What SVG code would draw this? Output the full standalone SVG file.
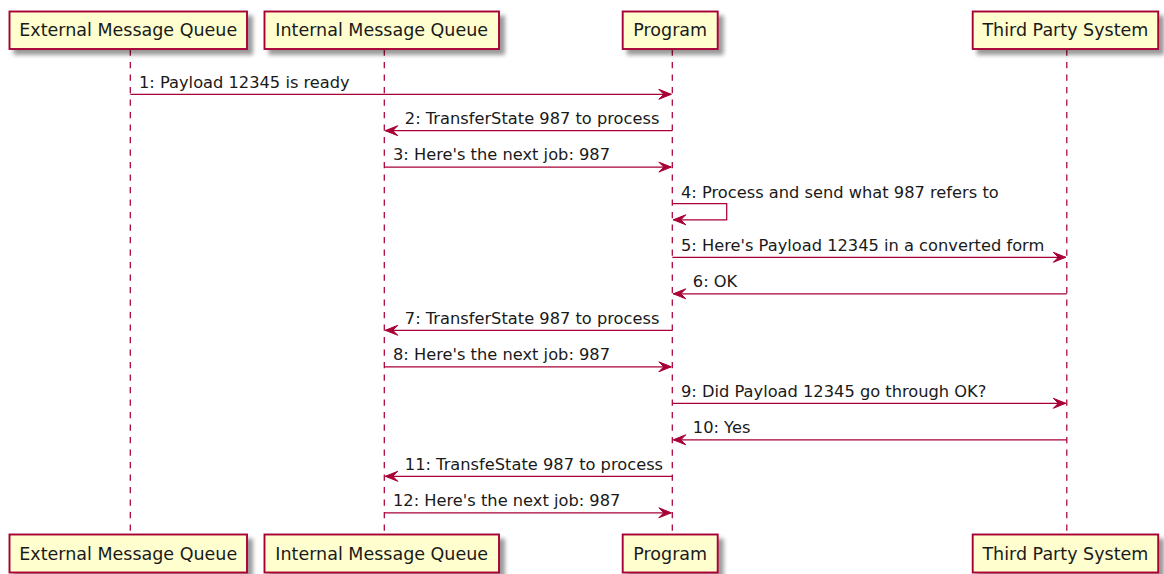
<svg xmlns="http://www.w3.org/2000/svg" width="1164" height="574" viewBox="0 0 1164 574">
<style>
.box{fill:#FEFECE;stroke:#A80036;stroke-width:1.9}
.bt{font-family:"DejaVu Sans",sans-serif;font-size:17.5px;fill:#1a1a1a;text-anchor:middle}
.life{stroke:#A80036;stroke-width:1.25;stroke-dasharray:6.25,6.25;fill:none}
.msg{stroke:#A80036;stroke-width:1.25;fill:none;marker-end:url(#ah)}
.mt{font-family:"DejaVu Sans",sans-serif;font-size:16.25px;fill:#1a1a1a}
</style>
<defs>
<filter id="sh" x="-10%" y="-30%" width="130%" height="180%">
<feGaussianBlur in="SourceAlpha" stdDeviation="2"/>
<feOffset dx="5" dy="5" result="o"/>
<feComponentTransfer><feFuncA type="linear" slope="0.4"/></feComponentTransfer>
<feMerge><feMergeNode/><feMergeNode in="SourceGraphic"/></feMerge>
</filter>
<marker id="ah" markerUnits="userSpaceOnUse" viewBox="-1 -1 14.5 12" markerWidth="14.5" markerHeight="12" refX="12.5" refY="5" orient="auto">
<path d="M0,0 L12.5,5 L0,10 L5,5 Z" fill="#A80036" stroke="#A80036" stroke-width="1" stroke-linejoin="miter"/>
</marker>
</defs>
<rect width="1164" height="574" fill="#fff"/>
<g id="lifelines">
<line class="life" x1="130.3" y1="49.5" x2="130.3" y2="534.5"/>
<line class="life" x1="384.3" y1="49.5" x2="384.3" y2="534.5"/>
<line class="life" x1="672.3" y1="49.5" x2="672.3" y2="534.5"/>
<line class="life" x1="1066.8" y1="49.5" x2="1066.8" y2="534.5"/>
</g>
<g id="ext">
<rect class="box" filter="url(#sh)" x="9.5" y="11.5" width="237.5" height="37.5"/>
<text class="bt" x="128.2" y="36">External Message Queue</text>
<rect class="box" filter="url(#sh)" x="9.5" y="534.5" width="237.5" height="38"/>
<text class="bt" x="128.2" y="559.5">External Message Queue</text>
</g>
<g id="int">
<rect class="box" filter="url(#sh)" x="264.5" y="11.5" width="234.5" height="37.5"/>
<text class="bt" x="381.7" y="36">Internal Message Queue</text>
<rect class="box" filter="url(#sh)" x="264.5" y="534.5" width="234.5" height="38"/>
<text class="bt" x="381.7" y="559.5">Internal Message Queue</text>
</g>
<g id="prog">
<rect class="box" filter="url(#sh)" x="622.7" y="11.5" width="95" height="37.5"/>
<text class="bt" x="670.2" y="36">Program</text>
<rect class="box" filter="url(#sh)" x="622.7" y="534.5" width="95" height="38"/>
<text class="bt" x="670.2" y="559.5">Program</text>
</g>
<g id="tps">
<rect class="box" filter="url(#sh)" x="972.7" y="11.5" width="185.5" height="37.5"/>
<text class="bt" x="1065.4" y="36">Third Party System</text>
<rect class="box" filter="url(#sh)" x="972.7" y="534.5" width="185.5" height="38"/>
<text class="bt" x="1065.4" y="559.5">Third Party System</text>
</g>
<g id="connectors">
<line class="msg" x1="130.3" y1="94.3" x2="671.3" y2="94.3"/>
<text class="mt" x="139" y="87.5">1: Payload 12345 is ready</text>
<line class="msg" x1="672.3" y1="130.7" x2="385.3" y2="130.7"/>
<text class="mt" x="404.8" y="124">2: TransferState 987 to process</text>
<line class="msg" x1="384.3" y1="167.1" x2="671.3" y2="167.1"/>
<text class="mt" x="393" y="160.4">3: Here's the next job: 987</text>
<path class="msg" d="M672.3,203.5 H726.7 V219.8 H673.3"/>
<text class="mt" x="681" y="197.5">4: Process and send what 987 refers to</text>
<line class="msg" x1="672.3" y1="257.3" x2="1065.8" y2="257.3"/>
<text class="mt" x="681" y="250.6">5: Here's Payload 12345 in a converted form</text>
<line class="msg" x1="1066.8" y1="293.8" x2="673.3" y2="293.8"/>
<text class="mt" x="692.8" y="287.1">6: OK</text>
<line class="msg" x1="672.3" y1="330.3" x2="385.3" y2="330.3"/>
<text class="mt" x="404.8" y="323.6">7: TransferState 987 to process</text>
<line class="msg" x1="384.3" y1="366.8" x2="671.3" y2="366.8"/>
<text class="mt" x="393" y="360.1">8: Here's the next job: 987</text>
<line class="msg" x1="672.3" y1="403.3" x2="1065.8" y2="403.3"/>
<text class="mt" x="681" y="396.6">9: Did Payload 12345 go through OK?</text>
<line class="msg" x1="1066.8" y1="439.8" x2="673.3" y2="439.8"/>
<text class="mt" x="692.8" y="433.1">10: Yes</text>
<line class="msg" x1="672.3" y1="476.3" x2="385.3" y2="476.3"/>
<text class="mt" x="404.8" y="469.6">11: TransfeState 987 to process</text>
<line class="msg" x1="384.3" y1="512.8" x2="671.3" y2="512.8"/>
<text class="mt" x="393" y="506.1">12: Here's the next job: 987</text>
</g>
</svg>
